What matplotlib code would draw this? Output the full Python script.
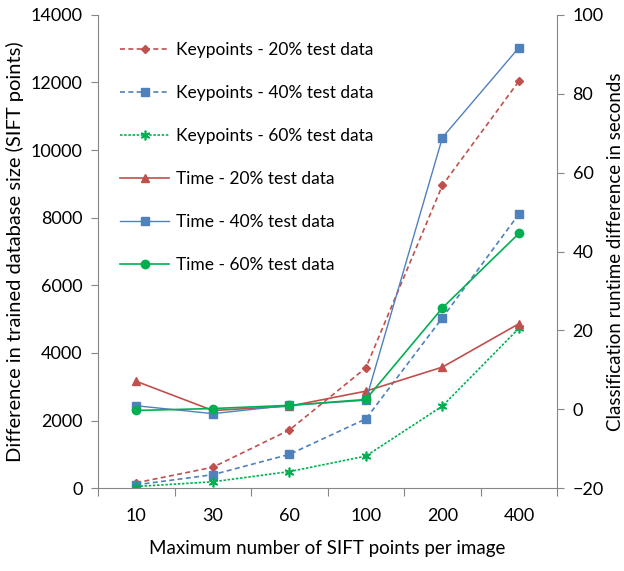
import matplotlib
matplotlib.use("Agg")
import matplotlib.pyplot as plt
import numpy as np

categories = ["10", "30", "60", "100", "200", "400"]
kp_20 = [160, 620, 1720, 3560, 8960, 12040]
kp_40 = [100, 400, 1000, 2050, 5040, 8110]
kp_60 = [50, 190, 490, 950, 2430, 4730]
time_20 = [7.1, -0.3, 0.8, 4.6, 10.7, 21.7]
time_40 = [0.9, -1.1, 1.0, 2.3, 68.9, 91.7]
time_60 = [-0.3, 0.2, 1.0, 2.5, 25.7, 44.6]

plt.rcParams['font.family'] = ['Lato', 'DejaVu Sans']

RED = "#C0504D"
BLUE = "#4F81BD"
GREEN = "#00B050"
SPINE = "#868686"

fig = plt.figure(figsize=(6.24, 5.71), dpi=100)
ax = fig.add_axes([0.157, 0.145, 0.736, 0.829])
ax2 = ax.twinx()

x = np.arange(len(categories))

h1, = ax.plot(x, kp_20, color=RED, ls=(0, (3, 2)), lw=1.2, marker='D', ms=4.5,
              label="Keypoints - 20% test data")
h2, = ax.plot(x, kp_40, color=BLUE, ls=(0, (3, 2)), lw=1.2, marker='s', ms=6,
              label="Keypoints - 40% test data")
h3, = ax.plot(x, kp_60, color=GREEN, ls=(0, (1.5, 1)), lw=1.2, marker=(6, 2, 0), ms=7,
              mew=1.2, label="Keypoints - 60% test data")
h4, = ax2.plot(x, time_20, color=RED, ls='-', lw=1.2, marker='^', ms=6,
               label="Time - 20% test data")
h5, = ax2.plot(x, time_40, color=BLUE, ls='-', lw=1.0, marker='s', ms=6,
               label="Time - 40% test data")
h6, = ax2.plot(x, time_60, color=GREEN, ls='-', lw=1.2, marker='o', ms=6,
               label="Time - 60% test data")

ax.set_xlim(-0.5, len(categories) - 0.5)
ax.set_ylim(0, 14000)
ax.set_yticks(np.arange(0, 14001, 2000))
ax2.set_ylim(-20, 100)
ax2.set_yticks(np.arange(-20, 101, 20))

ax.set_xticks(np.arange(-0.5, len(categories), 1.0))
ax.set_xticklabels([])
ax.set_xticks(x, minor=True)
ax.set_xticklabels(categories, minor=True)
ax.tick_params(axis='x', which='major', length=6, direction='out', color=SPINE)
ax.tick_params(axis='x', which='minor', length=0, pad=14, labelsize=13)
ax.tick_params(axis='y', length=5, direction='out', color=SPINE, labelsize=13, pad=6)
ax2.tick_params(axis='y', length=5, direction='out', color=SPINE, labelsize=13, pad=6)

for a in (ax, ax2):
    a.spines['top'].set_visible(False)
    for s in ('left', 'right', 'bottom'):
        a.spines[s].set_color(SPINE)
ax2.spines['bottom'].set_visible(False)
ax2.spines['left'].set_visible(False)
ax.spines['right'].set_visible(False)

ax.set_xlabel("Maximum number of SIFT points per image", fontsize=13.5, labelpad=12)
ax.set_ylabel("Difference in trained database size (SIFT points)", fontsize=14.5, labelpad=5)
ax2.set_ylabel("Classification runtime difference in seconds", fontsize=13.5, labelpad=2)

leg = ax.legend(handles=[h1, h2, h3, h4, h5, h6], loc='upper left',
                bbox_to_anchor=(0.015, 0.975), frameon=False, fontsize=12.5,
                handlelength=2.8, labelspacing=1.55, handletextpad=0.4)

fig.savefig("out.png", dpi=100)
